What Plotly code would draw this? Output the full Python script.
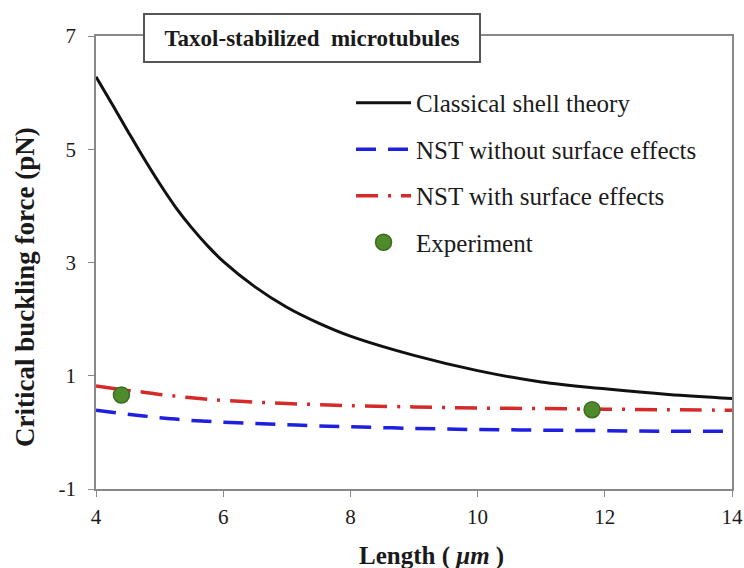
import plotly.graph_objects as go

length_um = [4, 4.25, 4.5, 4.75, 5, 5.25, 5.5, 5.75, 6, 6.5, 7, 7.5, 8, 9, 10, 11, 12, 13, 14]
classical = [6.28, 5.805, 5.32, 4.845, 4.395, 3.98, 3.62, 3.30, 3.02, 2.57, 2.21, 1.93, 1.70, 1.36, 1.09, 0.89, 0.77, 0.67, 0.60]
nst_no_surface = [0.39, 0.355, 0.32, 0.29, 0.26, 0.235, 0.21, 0.195, 0.18, 0.155, 0.135, 0.115, 0.10, 0.07, 0.05, 0.04, 0.03, 0.02, 0.02]
nst_surface = [0.82, 0.78, 0.74, 0.71, 0.67, 0.64, 0.61, 0.585, 0.565, 0.535, 0.51, 0.49, 0.47, 0.45, 0.43, 0.42, 0.41, 0.40, 0.39]
exp_length = [4.4, 11.8]
exp_force = [0.66, 0.40]

x_ticks = [4, 6, 8, 10, 12, 14]
x_labels = ["4", "6", "8", "10", "12", "14"]
y_ticks = [-1, 1, 3, 5, 7]
y_labels = ["-1", "1", "3", "5", "7"]

serif = "Liberation Serif, Times New Roman, serif"
ink = "#1a1a1a"

fig = go.Figure()
fig.add_trace(go.Scatter(x=length_um, y=classical, mode="lines", name="Classical shell theory",
                         line=dict(color="#111111", width=3, shape="spline"), legendgroup="a"))
fig.add_trace(go.Scatter(x=length_um, y=nst_no_surface, mode="lines", name="NST without surface effects",
                         line=dict(color="#1f1fe0", width=3.5, dash="20px,12px", shape="spline"), legendgroup="b"))
fig.add_trace(go.Scatter(x=length_um, y=nst_surface, mode="lines", name="NST with surface effects",
                         line=dict(color="#d42a2a", width=3.5, dash="22px,10px,3px,10px", shape="spline"), legendgroup="c"))
fig.add_trace(go.Scatter(x=exp_length, y=exp_force, mode="markers", name="Experiment",
                         marker=dict(color="#4f8a2b", size=16, line=dict(color="#3d6b20", width=1.5)), legendgroup="d"))

axis_common = dict(showline=True, linecolor="#888888", linewidth=1.5, mirror=True, showgrid=False,
                   zeroline=False, ticks="outside", ticklen=6, tickcolor="#888888", automargin=False,
                   tickfont=dict(family=serif, size=21, color=ink))

fig.update_layout(
    width=744, height=568,
    margin=dict(l=96, r=12, t=36, b=79),
    paper_bgcolor="white", plot_bgcolor="white",
    font=dict(family=serif, color=ink),
    xaxis=dict(range=[4, 14], tickvals=x_ticks, ticktext=x_labels, ticklabelstandoff=2, **axis_common),
    yaxis=dict(range=[-1, 7], tickvals=y_ticks, ticktext=y_labels, ticklabelstandoff=8, **axis_common),
    legend=dict(x=0.401, y=0.903, xanchor="left", yanchor="top", bgcolor="rgba(0,0,0,0)",
                font=dict(family=serif, size=25, color=ink), traceorder="grouped", tracegroupgap=11,
                itemwidth=55),
    showlegend=True,
)

fig.add_annotation(xref="paper", yref="paper", x=0.339, y=0.9956, xanchor="center", yanchor="middle",
                   text="<b>Taxol-stabilized  microtubules</b>", showarrow=False,
                   font=dict(family=serif, size=23, color=ink),
                   bgcolor="white", bordercolor="#555555", borderwidth=2, borderpad=2,
                   width=330, height=42)

fig.add_annotation(xref="paper", yref="paper", x=0.528, y=-0.148, xanchor="center", yanchor="middle",
                   text="<b>Length ( <i>μm</i> )</b>", showarrow=False,
                   font=dict(family=serif, size=25, color=ink))

fig.add_annotation(xref="paper", yref="paper", x=-0.1116, y=0.446, xanchor="center", yanchor="middle",
                   text="<b>Critical buckling force (pN)</b>", showarrow=False, textangle=-90,
                   font=dict(family=serif, size=27, color=ink))

fig.write_html("out.html", config={"displayModeBar": False},
               post_script="document.body.style.margin='0px';")
